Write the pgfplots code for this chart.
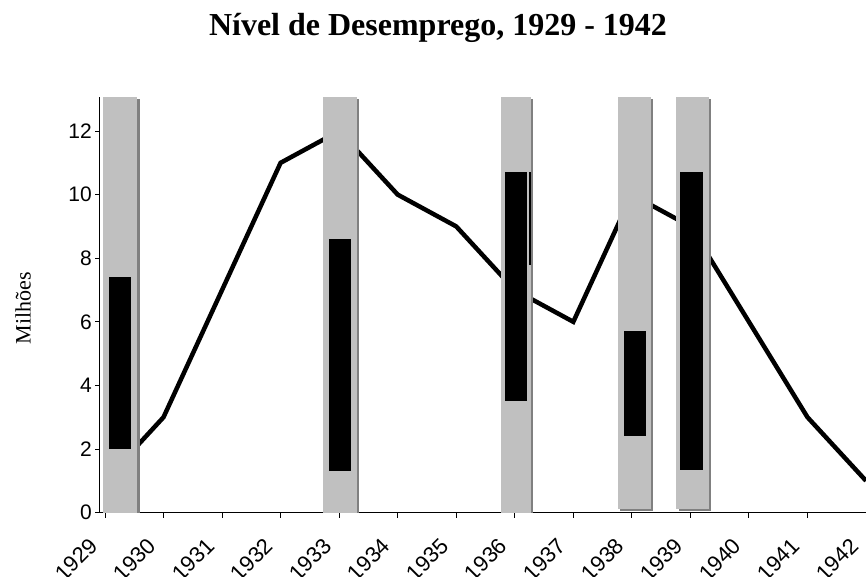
\documentclass[border=0pt]{standalone}
\usepackage{fontspec}
\setmainfont{Liberation Serif}
\newfontfamily\arial{Liberation Sans}
\usepackage{pgfplots}
\pgfplotsset{compat=1.18}
\definecolor{barg}{HTML}{C0C0C0}
\definecolor{shad}{HTML}{808080}
\begin{document}
\begin{tikzpicture}
\begin{axis}[
  scale only axis, width=766pt, height=415.6pt,
  xmin=1928.915, xmax=1942, ymin=0, ymax=13.07,
  axis x line*=bottom, axis y line*=left,
  clip=false,
  xtick={1929,...,1942}, ytick={0,2,...,12},
  tick align=outside, major tick length=5pt,
  tick style={black, line width=0.8pt},
  axis line style={black, line width=1pt},
  /pgf/number format/1000 sep={},
  /pgf/number format/assume math mode=true,
  yticklabel style={font=\arial\fontsize{21}{21}\selectfont, inner sep=3pt},
  xticklabel style={font=\arial\fontsize{22}{22}\selectfont, xshift=-10pt, yshift=-23pt, rotate=45, anchor=east, inner sep=2pt},
  ylabel={Milhões},
  ylabel style={at={(axis description cs:-0.1005,0.492)}, anchor=center, font=\fontsize{22}{22}\selectfont},
]
% unemployment line
\addplot[black, line width=4.5pt] coordinates {
  (1929,1) (1930,3) (1931,7) (1932,11) (1933,12) (1934,10) (1935,9)
  (1936,7) (1937,6) (1938,10) (1939,9) (1940,6) (1941,3) (1942,1)};
% gray bars: shadows
\addplot[fill=shad, draw=none] coordinates {(1929.00,0) (1929.60,0) (1929.60,13.00) (1929.00,13.00)} -- cycle;
\addplot[fill=shad, draw=none] coordinates {(1932.76,0) (1933.34,0) (1933.34,13.00) (1932.76,13.00)} -- cycle;
\addplot[fill=shad, draw=none] coordinates {(1935.80,0) (1936.31,0) (1936.31,13.00) (1935.80,13.00)} -- cycle;
\addplot[fill=shad, draw=none] coordinates {(1937.80,0.06) (1938.36,0.06) (1938.36,13.00) (1937.80,13.00)} -- cycle;
\addplot[fill=shad, draw=none] coordinates {(1938.80,0.06) (1939.35,0.06) (1939.35,13.00) (1938.80,13.00)} -- cycle;
% gray bars
\addplot[fill=barg, draw=none] coordinates {(1928.96,0) (1929.55,0) (1929.55,13.07) (1928.96,13.07)} -- cycle;
\addplot[fill=barg, draw=none] coordinates {(1932.72,0) (1933.30,0) (1933.30,13.07) (1932.72,13.07)} -- cycle;
\addplot[fill=barg, draw=none] coordinates {(1935.77,0) (1936.28,0) (1936.28,13.07) (1935.77,13.07)} -- cycle;
\addplot[fill=barg, draw=none] coordinates {(1937.76,0.12) (1938.32,0.12) (1938.32,13.07) (1937.76,13.07)} -- cycle;
\addplot[fill=barg, draw=none] coordinates {(1938.76,0.12) (1939.31,0.12) (1939.31,13.07) (1938.76,13.07)} -- cycle;
% black bars
\addplot[fill=black, draw=none] coordinates {(1929.07,2.0) (1929.44,2.0) (1929.44,7.4) (1929.07,7.4)} -- cycle;
\addplot[fill=black, draw=none] coordinates {(1932.83,1.3) (1933.21,1.3) (1933.21,8.6) (1932.83,8.6)} -- cycle;
\addplot[fill=black, draw=none] coordinates {(1935.84,3.5) (1936.21,3.5) (1936.21,10.7) (1935.84,10.7)} -- cycle;
\addplot[fill=black, draw=none] coordinates {(1936.25,7.8) (1936.28,7.8) (1936.28,10.7) (1936.25,10.7)} -- cycle;
\addplot[fill=black, draw=none] coordinates {(1937.87,2.4) (1938.24,2.4) (1938.24,5.7) (1937.87,5.7)} -- cycle;
\addplot[fill=black, draw=none] coordinates {(1938.83,1.35) (1939.21,1.35) (1939.21,10.7) (1938.83,10.7)} -- cycle;
\end{axis}
\node[font=\bfseries\fontsize{32}{32}\selectfont, anchor=base] at (338pt,476.6pt) {Nível de Desemprego, 1929 - 1942};
\pgfresetboundingbox
\useasboundingbox (-100pt,-63.4pt) rectangle (766pt,512.6pt);
\end{tikzpicture}
\end{document}
